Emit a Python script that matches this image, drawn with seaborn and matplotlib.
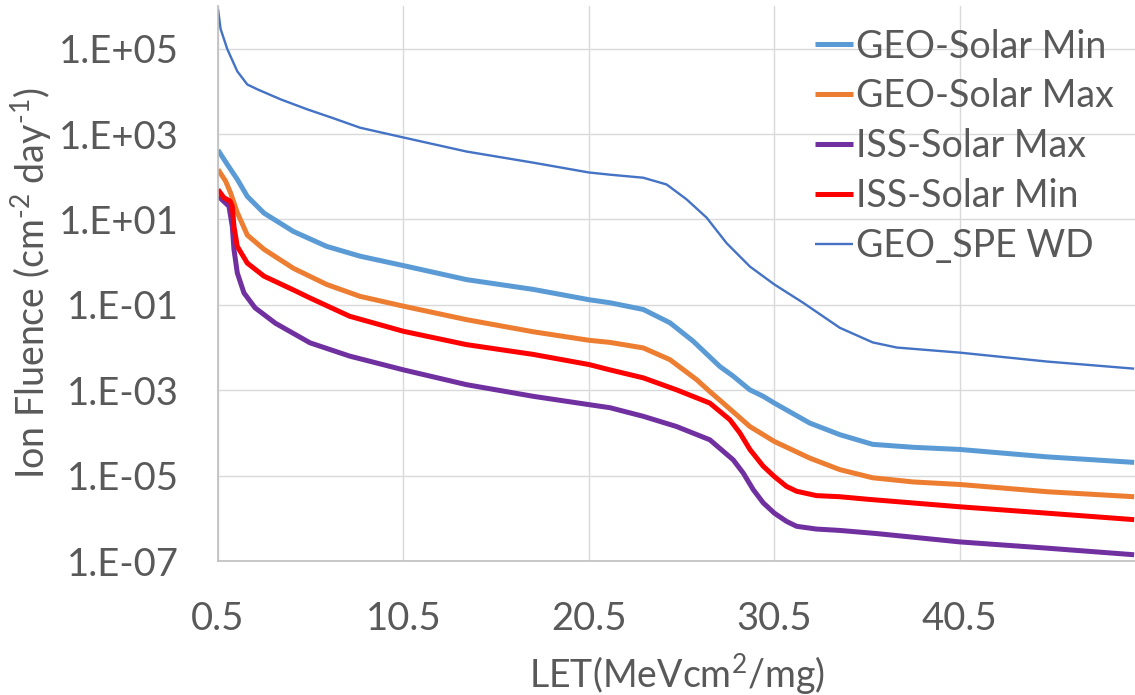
import numpy as np
import pandas as pd
import matplotlib
matplotlib.use("Agg")
import matplotlib.pyplot as plt
import seaborn as sns

# LET (MeV cm^2/mg) and daily ion fluence (cm^-2 day^-1) for each environment
geo_min_let = [0.5, 1.0, 1.54, 2.08, 2.98, 4.56, 6.36, 8.16, 10.5, 13.9, 17.5,
               20.5, 21.63, 23.43, 24.87, 26.12, 27.56, 28.28, 29.18, 29.9, 30.5,
               32.41, 34.03, 35.8, 38.0, 40.5, 45.2, 49.9]
geo_min_flu = [4.2e2, 1.95e2, 87, 34.7, 14.1, 5.25, 2.34, 1.38, 0.83, 0.39,
               0.23, 0.132, 0.112, 0.078, 0.038, 1.41e-2, 3.6e-3, 2.14e-3, 1.02e-3,
               7.2e-4, 5.0e-4, 1.7e-4, 9.1e-5, 5.4e-5, 4.6e-5, 4.1e-5, 2.75e-5,
               2.04e-5]

geo_max_let = [0.5, 0.91, 1.18, 1.54, 2.08, 2.98, 4.56, 6.36, 8.16, 10.5, 13.9,
               17.5, 20.5, 21.63, 23.43, 24.87, 26.3, 27.02, 27.74, 29.18, 29.9,
               30.5, 32.41, 34.03, 35.8, 38.0, 40.5, 45.2, 49.9]
geo_max_flu = [1.48e2, 79, 41.7, 14.5, 4.3, 2.0, 0.72, 0.30, 0.158, 0.093, 0.045,
               2.34e-2, 1.48e-2, 1.32e-2, 9.8e-3, 5.2e-3, 1.78e-3, 9.3e-4, 5.0e-4,
               1.41e-4, 9.1e-5, 6.3e-5, 2.57e-5, 1.38e-5, 8.9e-6, 7.1e-6, 6.2e-6,
               4.2e-6, 3.2e-6]

iss_max_let = [0.5, 1.09, 1.27, 1.36, 1.54, 1.9, 2.5, 3.6, 5.46, 7.6, 10.5, 13.9,
               17.5, 20.5, 21.63, 23.43, 25.23, 27.02, 28.28, 28.82, 29.36, 29.9,
               30.5, 31.15, 31.7, 32.77, 34.03, 36.0, 40.5, 45.2, 49.9]
iss_max_flu = [35.5, 20.4, 6.9, 2.0, 0.56, 0.19, 0.085, 0.037, 1.29e-2, 6.3e-3,
               3.0e-3, 1.35e-3, 7.2e-4, 4.6e-4, 3.9e-4, 2.45e-4, 1.41e-4, 6.9e-5,
               2.34e-5, 1.15e-5, 4.7e-6, 2.3e-6, 1.32e-6, 8.5e-7, 6.5e-7, 5.6e-7,
               5.2e-7, 4.4e-7, 2.8e-7, 2.0e-7, 1.4e-7]

iss_min_let = [0.5, 0.82, 1.15, 1.27, 1.36, 1.54, 2.08, 2.98, 4.6, 5.46, 7.6,
               10.5, 13.9, 17.5, 20.5, 21.63, 23.43, 25.23, 27.02, 28.1, 28.64,
               29.18, 29.9, 30.5, 31.15, 31.7, 32.77, 34.03, 35.5, 40.5, 45.2,
               49.9]
iss_min_flu = [50, 32.4, 26.9, 20.4, 6.9, 2.34, 0.95, 0.47, 0.22, 0.145, 0.054,
               0.024, 1.17e-2, 6.9e-3, 4.0e-3, 3.0e-3, 1.95e-3, 1.02e-3, 5.0e-4,
               2.04e-4, 1.0e-4, 4.1e-5, 1.66e-5, 9.5e-6, 5.6e-6, 4.3e-6, 3.4e-6,
               3.2e-6, 2.8e-6, 1.86e-6, 1.32e-6, 9.3e-7]

spe_let = [0.5, 0.64, 1.0, 1.54, 2.08, 2.62, 3.88, 5.31, 6.66, 8.16, 10.3, 13.9,
           17.5, 20.5, 21.63, 23.43, 24.69, 25.77, 26.85, 27.92, 29.18, 30.5,
           32.05, 34.03, 35.8, 37.1, 40.5, 45.2, 49.9]
spe_flu = [8.5e5, 2.9e5, 9.8e4, 2.95e4, 1.45e4, 1.12e4, 6.5e3, 3.8e3, 2.4e3,
           1.41e3, 8.7e2, 3.9e2, 2.14e2, 1.26e2, 1.12e2, 95, 66, 29.5, 11.0, 2.8,
           0.79, 0.30, 0.112, 0.029, 1.32e-2, 1.0e-2, 7.6e-3, 4.7e-3, 3.2e-3]

series_names = ["GEO-Solar Min", "GEO-Solar Max", "ISS-Solar Max",
                "ISS-Solar Min", "GEO_SPE WD"]

x_ticks = [0.5, 10.5, 20.5, 30.5, 40.5]
x_tick_labels = ["0.5", "10.5", "20.5", "30.5", "40.5"]
y_ticks = [1e-7, 1e-5, 1e-3, 1e-1, 1e1, 1e3, 1e5]
y_tick_labels = ["1.E-07", "1.E-05", "1.E-03", "1.E-01", "1.E+01", "1.E+03", "1.E+05"]

frames = []
for name, xs, ys in zip(series_names,
                        [geo_min_let, geo_max_let, iss_max_let, iss_min_let, spe_let],
                        [geo_min_flu, geo_max_flu, iss_max_flu, iss_min_flu, spe_flu]):
    frames.append(pd.DataFrame({"LET": xs, "Fluence": ys, "Series": name}))
df = pd.concat(frames, ignore_index=True)

colors = {"GEO-Solar Min": "#5B9BD5", "GEO-Solar Max": "#ED7D31",
          "ISS-Solar Max": "#7030A0", "ISS-Solar Min": "#FF0000",
          "GEO_SPE WD": "#4472C4"}
widths = {"GEO-Solar Min": 3.6, "GEO-Solar Max": 3.6, "ISS-Solar Max": 3.6,
          "ISS-Solar Min": 3.6, "GEO_SPE WD": 1.7}

sns.set_theme(style="white")
plt.rcParams["font.family"] = ["Lato", "DejaVu Sans"]
plt.rcParams["mathtext.fontset"] = "custom"
plt.rcParams["mathtext.rm"] = "Lato"
plt.rcParams["mathtext.it"] = "Lato:italic"

text_color = "#595959"
fig = plt.figure(figsize=(11.35, 6.95), dpi=100)
ax = fig.add_axes([218 / 1135, 1 - 561 / 695, (1136 - 218) / 1135, (561 - 6) / 695])

for name in series_names:
    sub = df[df["Series"] == name]
    sns.lineplot(data=sub, x="LET", y="Fluence", ax=ax, color=colors[name],
                 linewidth=widths[name], label=name, estimator=None, sort=False,
                 solid_joinstyle="round", solid_capstyle="butt")

ax.set_yscale("log")
ax.set_xlim(0.5, 50.0)
ax.set_ylim(1e-7, 1e6)
ax.set_xticks(x_ticks)
ax.set_xticklabels(x_tick_labels)
ax.set_yticks(y_ticks)
ax.set_yticklabels(y_tick_labels)
ax.yaxis.set_minor_locator(matplotlib.ticker.NullLocator())

ax.grid(True, which="major", color="#D9D9D9", linewidth=1.0)
ax.set_axisbelow(True)
for side in ["top", "right"]:
    ax.spines[side].set_visible(False)
for side in ["left", "bottom"]:
    ax.spines[side].set_color("#BFBFBF")
    ax.spines[side].set_linewidth(1.2)

ax.tick_params(axis="both", length=0, labelsize=27.5, labelcolor=text_color)
ax.tick_params(axis="y", pad=28)
ax.tick_params(axis="x", pad=29)

ax.set_xlabel(r"LET(MeVcm$^{\text{2}}$/mg)", fontsize=27, color=text_color,
              labelpad=10)
ax.set_ylabel(r"Ion Fluence (cm$^{\text{-2}}$ day$^{\text{-1}}$)",
              fontsize=27, color=text_color, labelpad=4)

leg = ax.legend(loc="upper right", bbox_to_anchor=(1.0, 1.0), frameon=False,
                fontsize=27, labelspacing=0.37, handlelength=1.0,
                handletextpad=0.08, borderaxespad=0.2)
for t in leg.get_texts():
    t.set_color(text_color)

fig.savefig("out.png", dpi=100)
